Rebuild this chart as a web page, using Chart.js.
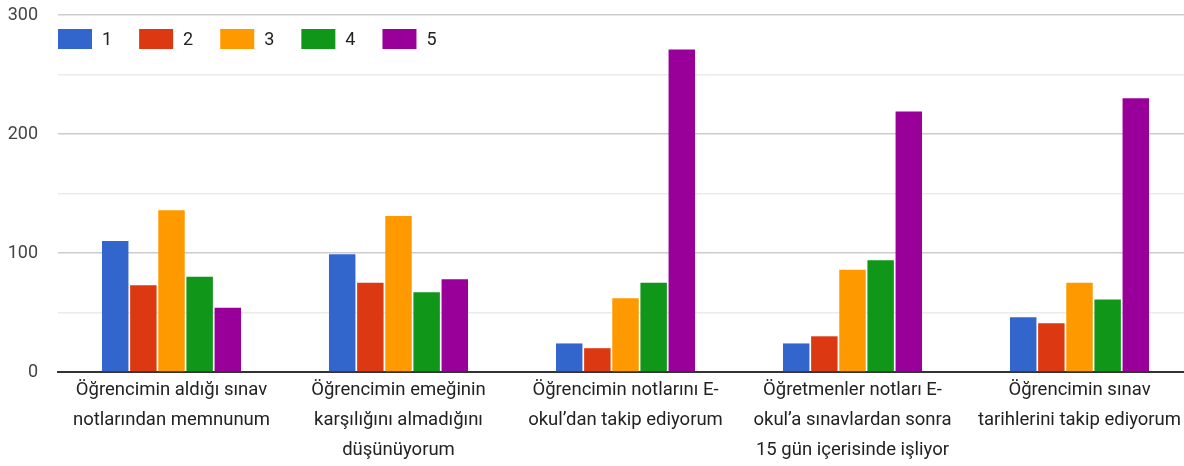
<!DOCTYPE html>
<html>
<head>
<meta charset="utf-8">
<script src="https://cdn.jsdelivr.net/npm/chart.js@4/dist/chart.umd.min.js"></script>
<style>
  html, body { margin: 0; padding: 0; background: #fff; overflow: hidden; }
  #wrap { width: 1193px; height: 466px; position: relative; }
</style>
</head>
<body>
<div id="wrap"><canvas id="chart"></canvas></div>
<script>
// categories (each line of a label is its own string)
const categories = [
    ['Öğrencimin aldığı sınav', 'notlarından memnunum'],
    ['Öğrencimin emeğinin', 'karşılığını almadığını', 'düşünüyorum'],
    ['Öğrencimin notlarını E-', 'okul’dan takip ediyorum'],
    ['Öğretmenler notları E-', 'okul’a sınavlardan sonra', '15 gün içerisinde işliyor'],
    ['Öğrencimin sınav', 'tarihlerini takip ediyorum']
];

const seriesNames = ['1', '2', '3', '4', '5'];
const seriesColors = ['#3366cc', '#dc3912', '#ff9900', '#109618', '#990099'];

const values1 = [110, 99, 24, 24, 46];
const values2 = [73, 75, 20, 30, 41];
const values3 = [136, 131, 62, 86, 75];
const values4 = [80, 67, 75, 94, 61];
const values5 = [54, 78, 271, 219, 230];

const yTicks = [0, 100, 200, 300];

const allValues = [values1, values2, values3, values4, values5];
const FONT = 'Roboto, "Liberation Sans", Arial';

const datasets = allValues.map(function(vals, i) {
    return {
        label: seriesNames[i],
        data: vals,
        backgroundColor: seriesColors[i],
        borderWidth: 0,
        categoryPercentage: 0.62,
        barPercentage: 0.94
    };
});

// Horizontal legend drawn inside the plot area, top-left
const insideLegend = {
    id: 'insideLegend',
    afterDraw: function(chart) {
        const c = chart.ctx;
        const area = chart.chartArea;
        let x = area.left;
        const y = 29;
        c.save();
        c.font = '18px ' + FONT;
        c.textBaseline = 'middle';
        chart.data.datasets.forEach(function(ds) {
            c.fillStyle = ds.backgroundColor;
            c.fillRect(x, y, 34, 20);
            c.fillStyle = '#222';
            c.fillText(ds.label, x + 44, y + 11);
            x += 44 + c.measureText(ds.label).width + 27;
        });
        c.restore();
    }
};

const ctx = document.getElementById('chart').getContext('2d');

new Chart(ctx, {
    type: 'bar',
    data: {
        labels: categories,
        datasets: datasets
    },
    plugins: [insideLegend],
    options: {
        responsive: true,
        maintainAspectRatio: false,
        animation: false,
        layout: {
            padding: { top: 15, right: 0, left: 0, bottom: 0 }
        },
        plugins: {
            legend: { display: false },
            tooltip: { enabled: false }
        },
        scales: {
            x: {
                grid: { display: false },
                border: { color: '#333', width: 2 },
                afterFit: function(scale) {
                    scale.height = 94;
                },
                ticks: {
                    color: '#222',
                    maxRotation: 0,
                    autoSkip: false,
                    padding: -5,
                    font: { family: FONT, size: 18.5, lineHeight: 1.62 }
                }
            },
            y: {
                min: 0,
                max: 300,
                border: { display: false },
                afterFit: function(scale) {
                    scale.width = 58;
                    scale.paddingTop = 0;
                    scale.paddingBottom = 0;
                },
                grid: {
                    drawTicks: false,
                    color: function(c) {
                        return yTicks.indexOf(c.tick.value) >= 0 ? '#cccccc' : '#ebebeb';
                    },
                    lineWidth: 1.5
                },
                ticks: {
                    stepSize: 50,
                    padding: 20,
                    color: '#444',
                    font: { family: FONT, size: 18 },
                    callback: function(value) {
                        return yTicks.indexOf(value) >= 0 ? value : '';
                    }
                }
            }
        }
    }
});
</script>
</body>
</html>
